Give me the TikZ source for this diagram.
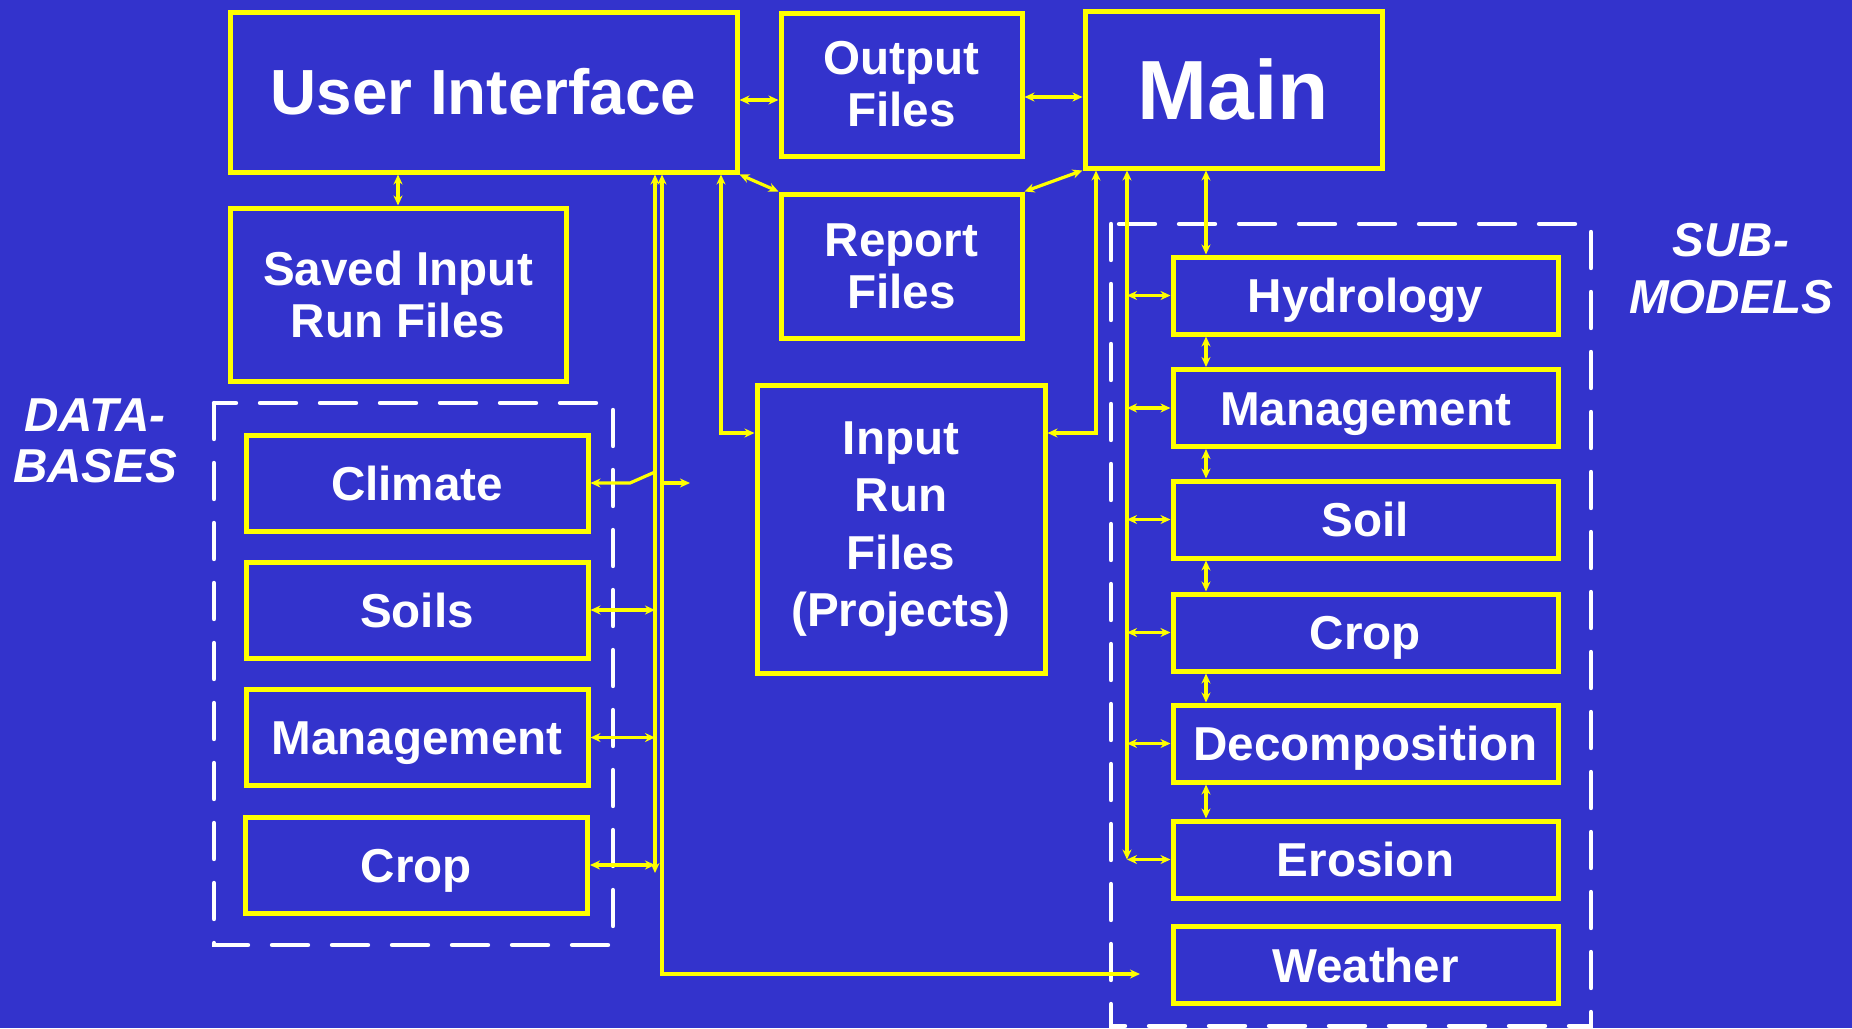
\documentclass[tikz,border=0pt]{standalone}
\usepackage{fontspec}
\setmainfont{Liberation Sans}
\usetikzlibrary{arrows.meta,calc}
\definecolor{bg}{RGB}{51,51,204}
\definecolor{yel}{RGB}{255,255,0}
\begin{document}
\begin{tikzpicture}[x=0.5pt,y=-0.5pt,
  >={Stealth[length=5pt,width=4.5pt]},
  box/.style={draw=yel, line width=2.5pt, text=white, inner sep=0pt, align=center,
    font=\bfseries\fontsize{23.8}{26}\selectfont},
  dbbox/.style={box, minimum width=171pt, minimum height=48pt, text height=17pt, text depth=0pt},
  smbox/.style={box, minimum width=192.5pt, minimum height=38.5pt, text height=17pt, text depth=0pt},
  conn/.style={draw=yel, line width=1.6pt},
  dashbox/.style={draw=white, line width=2.2pt, dash pattern=on 18pt off 12pt, line cap=round},
  lab/.style={text=white, inner sep=0pt, align=center}]
\useasboundingbox[fill=bg] (0,0) rectangle (1852,1028);

% dashed groups
\draw[dashbox] (214,403) rectangle (613,945);
\draw[dashbox] (1111,224) rectangle (1591,1026);

% top boxes
\node[box, minimum width=253.5pt, minimum height=80pt,
  font=\bfseries\fontsize{31.9}{34}\selectfont] (ui) at (483.5,92) {User Interface};
\node[box, minimum width=120.5pt, minimum height=71.5pt] (out) at (901.5,84.5) {Output\\Files};
\node[box, minimum width=148.5pt, minimum height=78.5pt, text height=30pt, text depth=0pt,
  font=\bfseries\fontsize{42}{44}\selectfont] (main) at (1233.5,89.5) {Main};
\node[box, minimum width=168pt, minimum height=86.5pt] (saved) at (398,294.5) {Saved Input\\Run Files};
\node[box, minimum width=120.5pt, minimum height=72pt] (report) at (901.5,266) {Report\\Files};
\node[box, minimum width=144pt, minimum height=144pt,
  font=\bfseries\fontsize{23.8}{28.75}\selectfont] (input) at (901,529) {Input\\Run\\Files\\(Projects)};

% databases
\node[dbbox] (climate) at (417,483) {Climate};
\node[dbbox] (soils) at (417,610) {Soils};
\node[dbbox] (dbmgmt) at (417,737.5) {Management};
\node[dbbox] (dbcrop) at (416.5,865) {Crop};

% sub-models
\node[smbox] (hydro) at (1365.5,295.5) {Hydrology};
\node[smbox] (smmgmt) at (1365.5,408) {Management};
\node[smbox] (soil) at (1365.5,519.5) {Soil};
\node[smbox] (smcrop) at (1365.5,632.5) {Crop};
\node[smbox] (decomp) at (1365.5,743.5) {Decomposition};
\node[smbox] (erosion) at (1365.5,859.5) {Erosion};
\node[smbox] (weather) at (1365.5,965) {Weather};

% labels
\node[lab, font=\bfseries\itshape\fontsize{23.8}{25.5}\selectfont] (dblab) at (95,441) {DATA-\\BASES};
\node[lab, font=\bfseries\itshape\fontsize{23.8}{28.5}\selectfont] (smlab) at (1731,269) {SUB-\\MODELS};

% rail coordinates
\coordinate (rA) at (655,0);
\coordinate (rB) at (662,0);
\coordinate (rAend) at (655,873);
\coordinate (rBend) at (662,974);
\coordinate (wEnd) at (1140,974);
\coordinate (rU) at (721,433);
\coordinate (rM) at (1096,433);
\coordinate (rS) at (1127,0);
\coordinate (rH) at (1206,0);
\coordinate (cJ) at (630,483);
\coordinate (cT) at (655,472);
\coordinate (cR) at (690,483);

% top connectors
\draw[conn,<->] ([yshift=-4pt]ui.east) -- ([yshift=-4pt]ui.east -| out.west);
\draw[conn,<->] ([yshift=-3.75pt]main.west) -- ([yshift=-3.75pt]main.west -| out.east);
\draw[conn,<->] (saved.north) -- (saved.north |- ui.south);
\draw[conn,<->] (ui.south east) -- (report.north west);
\draw[conn,<->] (main.south west) -- (report.north east);
\draw[conn,<->] (ui.south -| rU) -- (rU) -- (rU -| input.west);
\draw[conn,<->] (main.south -| rM) -- (rM) -- (rM -| input.east);

% database rails
\draw[conn,<->] (ui.south -| rA) -- (rAend);
\draw[conn,<->] (ui.south -| rB) -- (rBend) -- (wEnd);
\draw[conn,<-] (climate.east) -- (cJ) -- (cT);
\draw[conn,->] (cR -| rB) -- (cR);
\draw[conn,<->] (soils.east) -- (soils.east -| rA);
\draw[conn,<->] (dbmgmt.east) -- (dbmgmt.east -| rA);
\draw[conn,<->] (dbcrop.east) -- (dbcrop.east -| rA);

% sub-model rail
\draw[conn,<->] (main.south -| rS) -- (erosion.west -| rS);
\foreach \s in {hydro,smmgmt,soil,smcrop,decomp,erosion}{
  \draw[conn,<->] (\s.west -| rS) -- (\s.west);
}
\draw[conn,<->] (main.south -| rH) -- (hydro.north -| rH);
\foreach \a/\b in {hydro/smmgmt,smmgmt/soil,soil/smcrop,smcrop/decomp,decomp/erosion}{
  \draw[conn,<->] (\a.south -| rH) -- (\b.north -| rH);
}
\end{tikzpicture}
\end{document}
